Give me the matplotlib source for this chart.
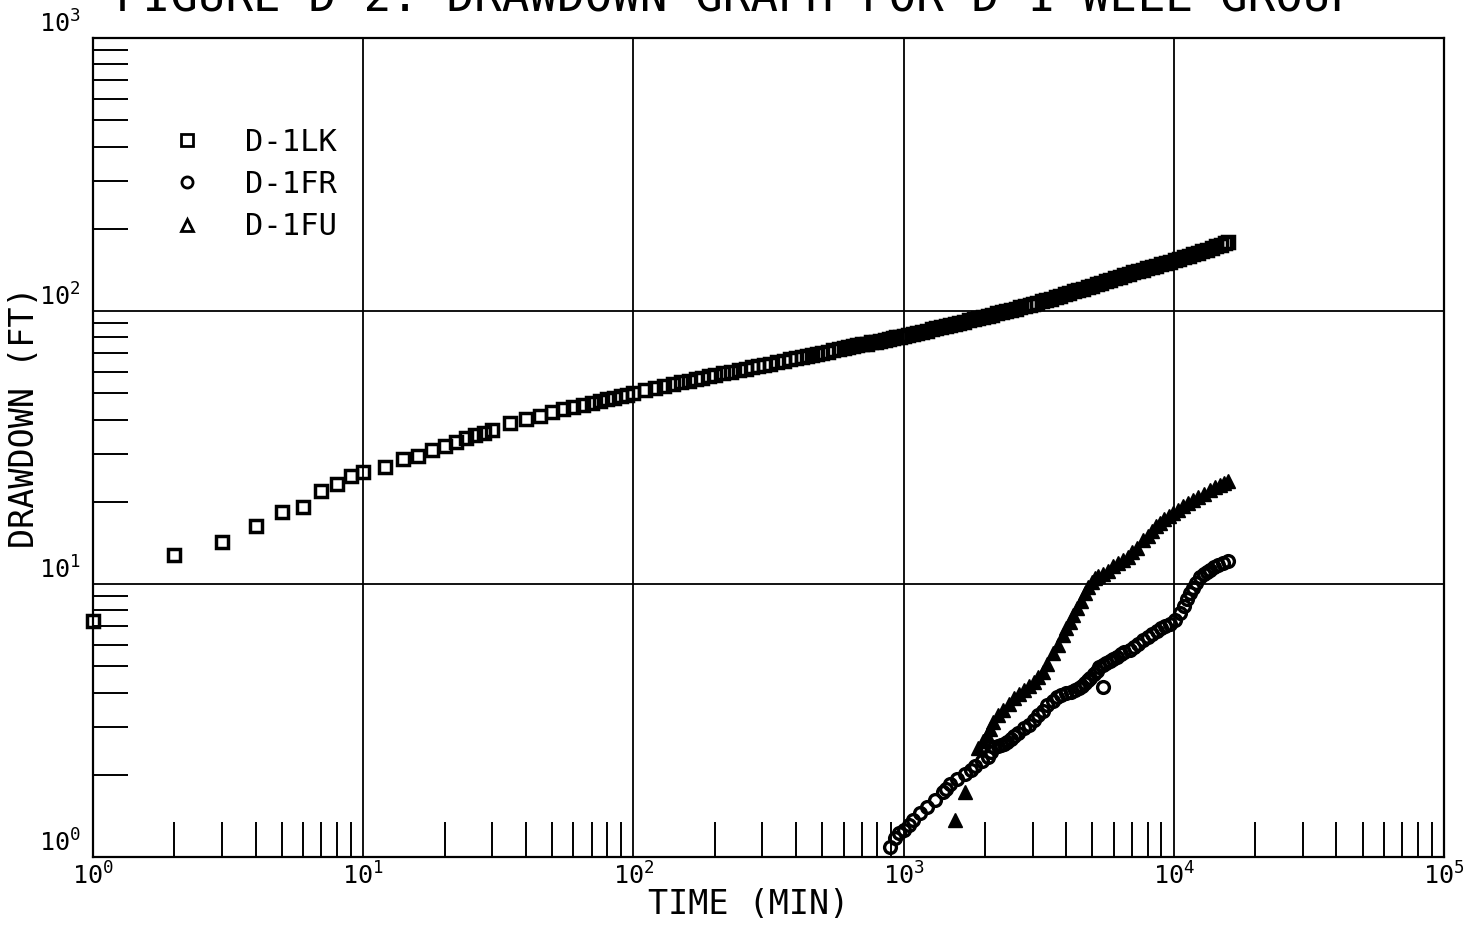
import matplotlib
matplotlib.use('Agg')
import matplotlib.pyplot as plt
from matplotlib.lines import Line2D
from matplotlib.ticker import LogLocator, NullFormatter

MONO = 'DejaVu Sans Mono'
plt.rcParams['font.family'] = [MONO, 'DejaVu Sans']
plt.rcParams['mathtext.default'] = 'regular'

title = 'FIGURE D-2. DRAWDOWN GRAPH FOR D-1 WELL GROUP'
x_label = 'TIME (MIN)'
y_label = 'DRAWDOWN (FT)'
series_names = ['D-1LK', 'D-1FR', 'D-1FU']
x_tick_exps = [0, 1, 2, 3, 4, 5]
y_tick_exps = [0, 1, 2, 3]

lk_time = [1, 2, 3, 4, 5, 6, 7, 8, 9, 10, 12, 14, 16, 18, 20, 22, 24, 26, 28, 30,
           35, 40, 45, 50, 55, 60, 65, 70, 75, 80, 85, 90, 95, 100,
           110, 120, 130, 140, 150, 160, 170, 180, 190, 200,
           215, 230, 245, 260, 275, 290, 305, 320,
           340, 360, 380, 400, 420, 440, 460, 480, 500,
           525, 550, 575, 600, 625, 650, 675, 700,
           730, 760, 790, 820, 850, 880, 910, 940, 970, 1000,
           1040, 1080, 1125, 1170, 1220, 1270, 1320, 1375, 1430, 1490,
           1550, 1610, 1675, 1745, 1815, 1890, 1965,
           2045, 2130, 2215, 2305, 2400, 2495,
           2600, 2705, 2815, 2930,
           3000, 3120, 3245, 3375, 3510, 3650, 3795, 3945,
           4100, 4265, 4435, 4610, 4795, 4985,
           5185, 5390, 5605, 5830, 6060, 6300, 6555, 6815,
           7085, 7370, 7665, 7970, 8290, 8620, 8965, 9325, 9700,
           10085, 10490, 10910, 11345, 11800,
           12270, 12760, 13270, 13800, 14350, 14925, 15520, 15840]
lk_drawdown = [7.3, 12.8, 14.2, 16.3, 18.4, 19.2, 21.9, 23.2, 24.9, 25.8, 26.8, 28.6, 29.4, 31.0, 32.1, 33.2, 34.2, 35.2, 35.6, 36.6,
               39.0, 40.1, 41.2, 42.7, 43.6, 44.6, 45.3, 46.0, 46.8, 47.5, 48.1, 48.8, 49.3, 49.9,
               51.5, 52.4, 53.3, 54.1, 54.9, 55.6, 56.3, 57.0, 57.6, 58.3,
               59.1, 60.0, 60.7, 61.5, 62.2, 62.9, 63.5, 64.2,
               65.0, 65.7, 66.5, 67.2, 67.9, 68.5, 69.1, 69.7, 70.3,
               71.0, 71.7, 72.4, 73.0, 73.6, 74.2, 74.8, 75.4,
               76.0, 76.7, 77.3, 77.9, 78.5, 79.0, 79.6, 80.1, 80.6, 81.1,
               81.7, 82.5, 83.3, 84.0, 84.8, 85.6, 86.4, 87.2, 88.0, 88.9,
               89.7, 90.6, 91.4, 92.4, 93.3, 94.2, 95.1,
               96.0, 97.0, 98.0, 99.0, 100.0, 101.0,
               102.1, 103.1, 104.2, 105.3,
               106.0, 107.3, 108.5, 109.8, 111.1, 112.4, 113.7, 115.0,
               116.4, 117.9, 119.4, 120.8, 122.4, 123.9,
               125.5, 127.0, 128.7, 130.3, 131.9, 133.5, 135.2, 136.9,
               138.5, 140.1, 141.7, 143.3, 145.0, 146.6, 148.3, 150.0, 151.7,
               153.4, 155.3, 157.2, 159.2, 161.1,
               163.3, 165.5, 167.8, 170.1, 172.6, 175.1, 177.7, 179.0]

fr_time = [891, 930, 960, 1000, 1043, 1088, 1150, 1218, 1310, 1400,
           1440, 1485, 1570, 1690, 1770, 1840, 1950, 2050, 2100, 2160,
           2230, 2290, 2360, 2420, 2490, 2560, 2650, 2790, 2900, 3040,
           3150, 3270, 3400, 3560, 3700, 3840, 4000, 4150, 4300, 4450,
           4570, 4700, 4800, 4900, 5050, 5180, 5300, 5450, 5480, 5600,
           5800, 5970, 6150, 6350, 6550, 6880, 7100, 7350, 7700, 8000,
           8300, 8650, 8950, 9300, 9700, 10100, 10540, 10900, 11200, 11480,
           11800, 12100, 12510, 12900, 13300, 13630, 14100, 14600, 15260, 15840]
fr_drawdown = [1.09, 1.17, 1.22, 1.26, 1.31, 1.37, 1.45, 1.53, 1.62, 1.73,
               1.78, 1.85, 1.93, 2.02, 2.09, 2.16, 2.24, 2.32, 2.42, 2.53,
               2.56, 2.58, 2.60, 2.64, 2.70, 2.78, 2.85, 2.96, 3.05, 3.17,
               3.30, 3.42, 3.60, 3.74, 3.85, 3.92, 3.98, 4.03, 4.08, 4.15,
               4.22, 4.35, 4.45, 4.52, 4.68, 4.80, 4.95, 5.05, 4.20, 5.12,
               5.22, 5.30, 5.42, 5.55, 5.65, 5.75, 5.88, 6.02, 6.22, 6.40,
               6.55, 6.75, 6.90, 7.00, 7.15, 7.40, 7.80, 8.30, 8.80, 9.25,
               9.70, 10.1, 10.6, 10.9, 11.1, 11.3, 11.5, 11.7, 11.9, 12.1]

fu_time = [1549, 1687, 1890, 1960, 2030, 2090, 2150, 2240, 2338, 2450,
           2560, 2680, 2790, 2910, 3040, 3150, 3270, 3400, 3560, 3720,
           3890, 4000, 4120, 4240, 4370, 4530, 4690, 4830, 4964, 5100,
           5250, 5483, 5700, 5950, 6200, 6500, 6750, 7000, 7300, 7712,
           8000, 8300, 8600, 8894, 9200, 9600, 9960, 10400, 10800, 11300,
           11800, 12300, 12900, 13630, 14200, 14800, 15300, 15840]
fu_drawdown = [1.37, 1.73, 2.50, 2.65, 2.80, 2.95, 3.13, 3.30, 3.46, 3.62,
               3.81, 3.95, 4.09, 4.24, 4.39, 4.58, 4.77, 5.10, 5.57, 6.00,
               6.50, 6.90, 7.28, 7.70, 8.15, 8.70, 9.25, 9.75, 10.2, 10.5,
               10.7, 10.9, 11.2, 11.6, 11.9, 12.2, 12.6, 13.1, 13.6, 14.5,
               15.0, 15.7, 16.3, 16.7, 17.3, 17.8, 18.2, 18.7, 19.3, 19.8,
               20.3, 20.8, 21.4, 22.1, 22.6, 23.1, 23.5, 23.8]

W, H = 1479, 932
fig = plt.figure(figsize=(W / 100, H / 100), dpi=100)
L, R, T, B = 93, 1444, 38, 857
ax = fig.add_axes([L / W, 1 - B / H, (R - L) / W, (B - T) / H])
ax.set_xscale('log')
ax.set_yscale('log')
ax.set_xlim(1, 1e5)
ax.set_ylim(1, 1e3)

ax.plot(lk_time, lk_drawdown, ls='none', marker='s', ms=8, mfc='none',
        mec='black', mew=2.5, clip_on=False, zorder=3)
ax.plot(fr_time, fr_drawdown, ls='none', marker='o', ms=8.5, mfc='none',
        mec='black', mew=2.4, clip_on=False, zorder=3)
ax.plot(fu_time, fu_drawdown, ls='none', marker='^', ms=10, mfc='black',
        mec='black', mew=1.0, clip_on=False, zorder=3)

# grid and ticks
ax.set_xticks([10.0 ** e for e in x_tick_exps])
ax.set_xticklabels([r'$10^{%d}$' % e for e in x_tick_exps])
ax.set_yticks([10.0 ** e for e in y_tick_exps])
ax.set_yticklabels([r'$10^{%d}$' % e for e in y_tick_exps])
ax.xaxis.set_minor_locator(LogLocator(base=10, subs=range(2, 10), numticks=100))
ax.yaxis.set_minor_locator(LogLocator(base=10, subs=range(2, 10), numticks=100))
ax.xaxis.set_minor_formatter(NullFormatter())
ax.yaxis.set_minor_formatter(NullFormatter())
ax.tick_params(which='major', length=0, labelsize=18, colors='black')
ax.tick_params(axis='y', which='major', pad=9)
ax.tick_params(axis='x', which='major', pad=4)
ax.tick_params(which='minor', direction='in', length=25, width=1.4,
               color='black', top=False, right=False)
for lbl in ax.get_yticklabels():
    lbl.set_verticalalignment('bottom')
ax.grid(True, which='major', color='black', lw=1.3)
ax.set_axisbelow(True)
for sp in ax.spines.values():
    sp.set_linewidth(1.6)
    sp.set_color('black')

ax.set_xlabel(x_label, fontsize=24)
ax.xaxis.set_label_coords((749 - L) / (R - L), (B - 905) / (B - T))
ax.xaxis.label.set_va('center')
ax.set_ylabel(y_label, fontsize=24)
ax.yaxis.set_label_coords((25 - L) / (R - L), (B - 417) / (B - T))
ax.yaxis.label.set_va('center')

fig.text(737 / W, 1 - 12 / H, title, ha='center', va='baseline', fontsize=33)

handles = [
    Line2D([], [], ls='none', marker='s', ms=8, mfc='none', mec='black', mew=2.0),
    Line2D([], [], ls='none', marker='o', ms=8, mfc='none', mec='black', mew=2.0),
    Line2D([], [], ls='none', marker='^', ms=8, mfc='none', mec='black', mew=2.0),
]
ax.legend(handles, series_names, loc='upper left',
          bbox_to_anchor=((172 - L) / (R - L), (B - 128) / (B - T)),
          frameon=False, fontsize=22, handlelength=1.0, handletextpad=1.4,
          labelspacing=0.43, borderpad=0, borderaxespad=0)

fig.savefig('out.png', dpi=100)
